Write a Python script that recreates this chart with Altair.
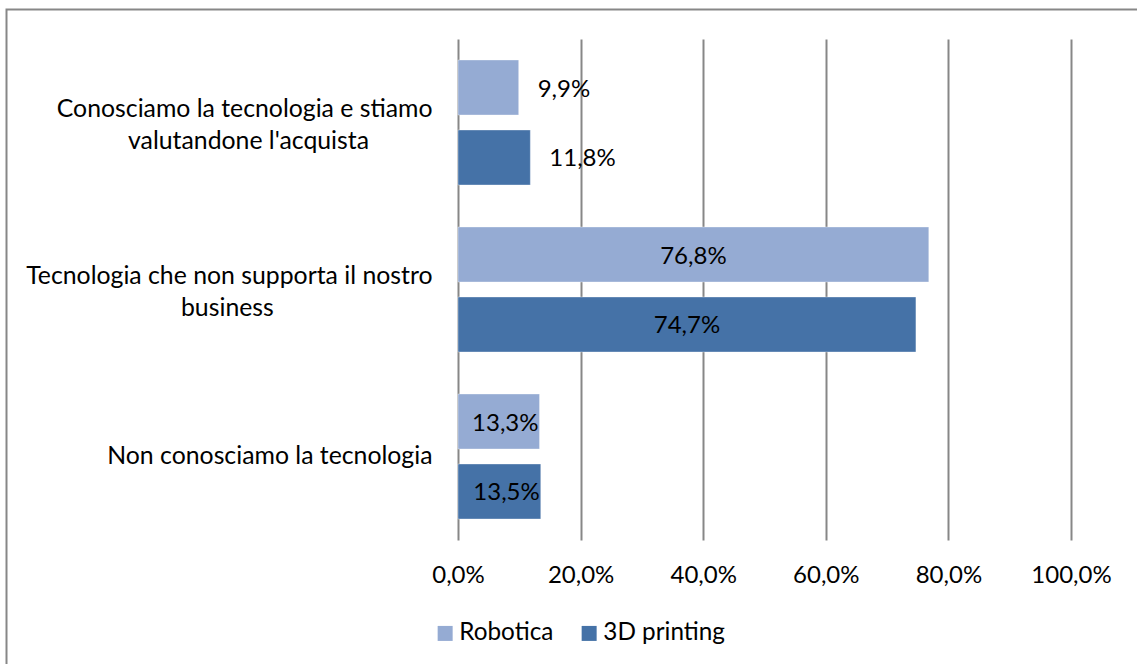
import altair as alt
import pandas as pd

# ---- data ----
categories = [
    "Conosciamo la tecnologia e stiamo\nvalutandone l'acquista",
    "Tecnologia che non supporta il nostro\nbusiness",
    "Non conosciamo la tecnologia",
]
series = ["Robotica", "3D printing"]
robotica = [9.9, 76.8, 13.3]
printing3d = [11.8, 74.7, 13.5]
colors = ["#95ABD3", "#4572A7"]
x_ticks = [0, 20, 40, 60, 80, 100]

FONT = "Lato"
FS_CAT = 24.8
FS_NUM = 24
FS_LEG = 24.3
NBSP = "\u00a0"
WJ = "\u2060"  # word joiner: keeps the trailing non-breaking spaces from being trimmed


def centered_label(text):
    # second line visually centred under the first one (as in the reference)
    lines = text.split("\n")
    if len(lines) == 1:
        return text
    diff = len(lines[0]) - len(lines[1])
    pad = NBSP * round(diff * 0.875)
    return lines[0] + "\n" + lines[1] + pad + WJ


labels = [centered_label(c) for c in categories]

rows = []
for lab, r, p in zip(labels, robotica, printing3d):
    rows.append({"category": lab, "series": series[0], "value": r})
    rows.append({"category": lab, "series": series[1], "value": p})
df = pd.DataFrame(rows)

y_enc = alt.Y(
    "category:N",
    sort=labels,
    scale=alt.Scale(paddingInner=0, paddingOuter=0),
    axis=alt.Axis(
        title=None,
        labelExpr="split(datum.label, '\\n')",
        labelFont=FONT,
        labelFontSize=FS_CAT,
        labelColor="#000000",
        labelPadding=26,
        labelLimit=0,
        labelLineHeight=32,
        labelOffset={"condition": {"test": "indexof(datum.label, '\\n') >= 0", "value": -13}, "value": 0},
        domain=False,
        ticks=False,
        grid=False,
    ),
)
yoff_enc = alt.YOffset(
    "series:N", sort=series, scale=alt.Scale(paddingInner=0.214, paddingOuter=0.3)
)
x_scale = alt.Scale(domain=[0, 100], nice=False, zero=True)
x_axis = alt.Axis(
    title=None,
    values=x_ticks,
    labelExpr="replace(format(datum.value, '.1f'), '.', ',') + '%'",
    labelFont=FONT,
    labelFontSize=FS_NUM,
    labelColor="#000000",
    labelAlign="center",
    labelFlush=False,
    labelPadding=23,
    domain=False,
    ticks=False,
    grid=True,
    gridColor="#878787",
    gridWidth=2,
)

base = alt.Chart(df).transform_calculate(
    lab="replace(format(datum.value, '.1f'), '.', ',') + '%'",
    mid="datum.value / 2",
)

bars = base.mark_bar(stroke="#FFFFFF", strokeOpacity=0.35, strokeWidth=1).encode(
    y=y_enc,
    yOffset=yoff_enc,
    x=alt.X("value:Q", scale=x_scale, axis=x_axis),
    color=alt.Color(
        "series:N",
        sort=series,
        scale=alt.Scale(domain=series, range=colors),
        legend=alt.Legend(
            title=None,
            orient="none",
            legendX=-25,
            legendY=582,
            direction="horizontal",
            symbolType="square",
            symbolSize=225,
            symbolStrokeWidth=0,
            symbolOpacity=1,
            labelFont=FONT,
            labelFontSize=FS_LEG,
            labelColor="#000000",
            labelOffset=2,
            columnPadding=23,
            padding=0,
        ),
    ),
)

txt_style = dict(font=FONT, fontSize=FS_NUM, color="#000000", baseline="middle", dy=2)

txt_out = base.transform_filter("datum.value < 12").mark_text(
    align="left", dx=19, **txt_style
).encode(y=y_enc, yOffset=yoff_enc, x=alt.X("value:Q", scale=x_scale, axis=x_axis), text="lab:N")

txt_end = base.transform_filter("datum.value >= 12 && datum.value < 50").mark_text(
    align="right", dx=-1, **txt_style
).encode(y=y_enc, yOffset=yoff_enc, x=alt.X("value:Q", scale=x_scale, axis=x_axis), text="lab:N")

txt_mid = base.transform_filter("datum.value >= 50").mark_text(
    align="center", **txt_style
).encode(y=y_enc, yOffset=yoff_enc, x=alt.X("mid:Q", scale=x_scale, axis=x_axis), text="lab:N")

border = alt.Chart(alt.Data(values=[{}])).mark_rect(
    filled=False, stroke="#878787", strokeWidth=2
).encode(
    x=alt.value(-451.5), x2=alt.value(720), y=alt.value(-29.5), y2=alt.value(720)
)

chart = (
    alt.layer(bars, txt_out, txt_end, txt_mid, border)
    .properties(
        width=613,
        height=501,
        autosize=alt.AutoSizeParams(type="none"),
        padding={"left": 458, "top": 39, "right": 66, "bottom": 124},
        background="#FFFFFF",
    )
    .configure_view(stroke=None)
)

chart.save("out.html", embed_options={"renderer": "svg", "actions": False})
